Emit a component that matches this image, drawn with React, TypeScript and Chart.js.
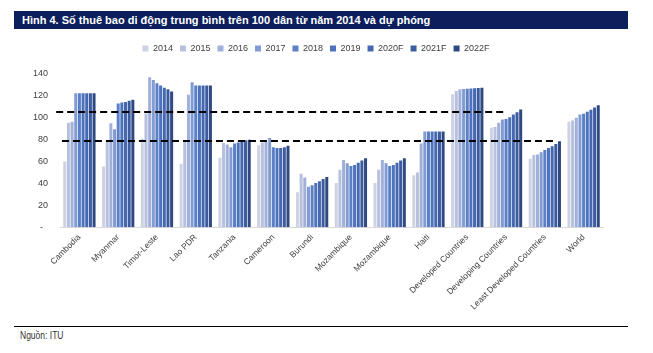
import React, { useEffect, useRef } from "react";
import { Chart, registerables } from "chart.js";

Chart.register(...registerables);

const categories = [
  "Cambodia",
  "Myanmar",
  "Timor-Leste",
  "Lao PDR",
  "Tanzania",
  "Cameroon",
  "Burundi",
  "Mozambique",
  "Mozambique",
  "Haiti",
  "Developed Countries",
  "Developing Countries",
  "Least Developed Countries",
  "World",
];

const seriesLabels = ["2014", "2015", "2016", "2017", "2018", "2019", "2020F", "2021F", "2022F"];

const seriesColors = [
  "#cdd3e4",
  "#b7c1dd",
  "#a1b0d9",
  "#829bd3",
  "#5a80c8",
  "#4d73bd",
  "#4568b0",
  "#3c5c9f",
  "#2f4a82",
];

// values per category, one per year 2014..2022F
const cambodia = [60, 95.5, 96.5, 122.5, 122.5, 122.5, 122.5, 122.5, 122.5];
const myanmar = [55.5, 78, 95, 89.5, 113, 114, 114.5, 115.5, 116.5];
const timorLeste = [81, 104, 137, 134.5, 131.5, 129.5, 127.5, 126, 124];
const laoPdr = [58, 78, 121, 132.5, 129.5, 129.5, 129.5, 129.5, 129.5];
const tanzania = [63.5, 77, 75.5, 73, 76.5, 77.5, 78, 79.5, 80];
const cameroon = [75, 77.5, 78, 81.5, 73, 72.5, 72.5, 73, 74.5];
const burundi = [32, 49, 45.5, 37, 38.5, 40.5, 42, 44, 46];
const mozambique = [40.5, 52.5, 61.5, 58.5, 56, 57, 59, 61, 63];
const mozambique2 = [40.5, 52.5, 61.5, 58.5, 56, 57, 59, 61, 63];
const haiti = [47.5, 50, 76.5, 87.5, 87.5, 87.5, 87.5, 87.5, 87.5];
const developed = [121.5, 124.5, 126, 126.3, 126.5, 126.7, 127, 127.3, 127.5];
const developing = [91, 91.5, 95.5, 98.5, 99, 100.5, 103, 105, 107.5];
const leastDeveloped = [62.5, 66, 66.5, 68.5, 70.5, 72.5, 74, 76, 78.5];
const world = [96.5, 97.5, 100, 103, 103.7, 105.5, 107.3, 109.5, 111.5];

const rows = [
  cambodia,
  myanmar,
  timorLeste,
  laoPdr,
  tanzania,
  cameroon,
  burundi,
  mozambique,
  mozambique2,
  haiti,
  developed,
  developing,
  leastDeveloped,
  world,
];

const yTicks = [0, 20, 40, 60, 80, 100, 120, 140];

// dashed reference lines: value and category span
const refLineValues = [105, 79];
const refLineFrom = [-0.6, -0.45];
const refLineTo = [11.02, 12.25];

const refLinesPlugin = {
  id: "refLines",
  afterDatasetsDraw(chart: any) {
    const { ctx, scales } = chart;
    const x = scales.x;
    const y = scales.y;
    ctx.save();
    ctx.setLineDash([7, 4]);
    ctx.lineWidth = 2;
    ctx.strokeStyle = "#000000";
    refLineValues.forEach((v, i) => {
      const py = Math.round(y.getPixelForValue(v));
      ctx.beginPath();
      ctx.moveTo(x.getPixelForValue(refLineFrom[i]), py);
      ctx.lineTo(x.getPixelForValue(refLineTo[i]), py);
      ctx.stroke();
    });
    ctx.restore();
  },
};

const legendGapPlugin = {
  id: "legendGap",
  afterInit(chart: any) {
    const legend = chart.legend;
    if (!legend || legend._gapPatched) return;
    const orig = legend.fit;
    legend.fit = function () {
      orig.call(this);
      this.height += 11;
    };
    legend._gapPatched = true;
  },
  afterLayout(chart: any) {
    const legend = chart.legend;
    if (!legend) return;
    legend.left += 4;
    legend.right += 4;
  },
};

export default function App() {
  const canvasRef = useRef<HTMLCanvasElement | null>(null);

  useEffect(() => {
    if (!canvasRef.current) return;
    Chart.defaults.font.family = "'Liberation Sans', Arial, sans-serif";
    const chart = new Chart(canvasRef.current, {
      type: "bar",
      data: {
        labels: categories,
        datasets: seriesLabels.map((label, i) => ({
          label,
          data: rows.map((r) => r[i]),
          backgroundColor: seriesColors[i],
          borderWidth: 0,
          categoryPercentage: 0.85,
          barPercentage: 0.82,
        })),
      },
      options: {
        responsive: false,
        animation: false,
        devicePixelRatio: 1,
        layout: { padding: { left: 21, right: 50, top: 0, bottom: 0 } },
        plugins: {
          legend: {
            position: "top",
            labels: {
              boxWidth: 6,
              boxHeight: 6,
              padding: 7,
              color: "#404040",
              font: { size: 9 },
            },
          },
          tooltip: { enabled: false },
        },
        scales: {
          x: {
            grid: { display: false, drawTicks: false },
            border: { display: true, color: "#d9d9d9", width: 1 },
            ticks: {
              minRotation: 45,
              maxRotation: 45,
              autoSkip: false,
              padding: 5,
              color: "#404040",
              font: { size: 8.5 },
            },
          },
          y: {
            min: 0,
            max: 140,
            grid: { display: false, drawTicks: false },
            border: { display: false },
            afterBuildTicks: (scale: any) => {
              scale.ticks = yTicks.map((v) => ({ value: v }));
            },
            ticks: {
              padding: 12,
              color: "#404040",
              font: { size: 9 },
              callback: (v: any) => (Number(v) === 0 ? "-  " : String(v)),
            },
          },
        },
      },
      plugins: [refLinesPlugin, legendGapPlugin],
    });
    return () => chart.destroy();
  }, []);

  return (
    <div style={{ position: "relative", width: 653, height: 353, background: "#ffffff", overflow: "hidden" }}>
      <style>{"body{margin:0;}"}</style>
      <div
        style={{
          position: "absolute",
          left: 14,
          top: 11,
          width: 614,
          height: 18,
          background: "#0c1f5c",
          overflow: "hidden",
        }}
      >
        <span
          style={{
            position: "absolute",
            left: 8,
            top: 3,
            display: "inline-block",
            whiteSpace: "nowrap",
            color: "#ffffff",
            fontFamily: "'Liberation Sans', Arial, sans-serif",
            fontWeight: "bold",
            fontSize: 11,
            lineHeight: "12px",
          }}
        >
          Hình 4. Số thuê bao di động trung bình trên 100 dân từ năm 2014 và dự phóng
        </span>
      </div>
      <canvas
        ref={canvasRef}
        width={653}
        height={280}
        style={{ position: "absolute", left: 0, top: 37, width: 653, height: 280, display: "block" }}
      />
      <div
        style={{
          position: "absolute",
          left: 14,
          top: 326,
          width: 614,
          height: 0,
          borderTop: "1px solid #000000",
        }}
      />
      <div
        style={{
          position: "absolute",
          left: 20,
          top: 330,
          fontFamily: "'Liberation Sans', Arial, sans-serif",
          fontSize: 10,
          color: "#333333",
          transform: "scaleX(0.85)",
          transformOrigin: "left center",
          whiteSpace: "nowrap",
        }}
      >
        Nguồn: ITU
      </div>
    </div>
  );
}
